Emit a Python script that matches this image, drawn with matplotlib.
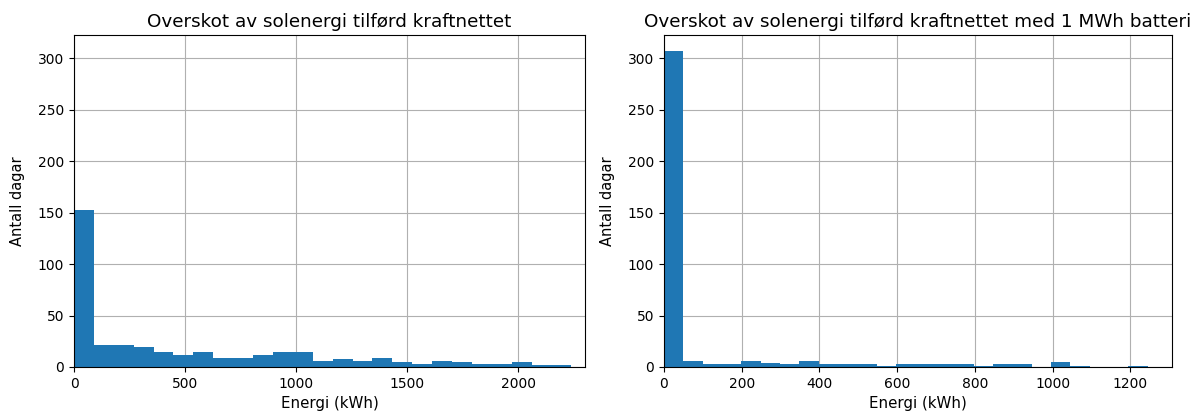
import numpy as np
import matplotlib.pyplot as plt

# daily surplus histograms, 25 bins each
counts_grid = [152, 21, 21, 19, 15, 12, 15, 9, 9, 12, 15, 15, 6,
               8, 6, 9, 5, 3, 6, 5, 3, 3, 5, 2, 2]
max_grid = 2240.0

counts_batt = [307, 6, 3, 3, 6, 4, 3, 6, 3, 3, 3, 1, 3,
               3, 3, 3, 1, 3, 3, 0, 5, 1, 0, 0, 1]
max_batt = 1245.0

titles = ["Overskot av solenergi tilførd kraftnettet",
          "Overskot av solenergi tilførd kraftnettet med 1 MWh batteri"]
xlabel = "Energi (kWh)"
ylabel = "Antall dagar"


def draw_hist(ax, counts, top, title, xmax):
    edges = np.linspace(0, top, len(counts) + 1)
    ax.hist(edges[:-1], bins=edges, weights=counts, color="#1f77b4")
    ax.set_axisbelow(True)
    ax.grid(True, color="#b0b0b0", linewidth=0.8)
    ax.set_xlim(0, xmax)
    ax.set_title(title, fontsize=13.2)
    ax.set_xlabel(xlabel, fontsize=10.8)
    ax.set_ylabel(ylabel, fontsize=10.5, labelpad=9)


def main():
    fig = plt.figure(figsize=(11.92, 4.16), dpi=100)
    ax1 = fig.add_axes([0.0621, 0.1178, 0.4288, 0.798])
    ax2 = fig.add_axes([0.557, 0.1178, 0.4262, 0.798])

    draw_hist(ax1, counts_grid, max_grid, titles[0], 2302)
    draw_hist(ax2, counts_batt, max_batt, titles[1], max_batt * 1.05)

    ymax = max(counts_grid + counts_batt) * 1.05
    ax1.set_ylim(0, ymax)
    ax2.set_ylim(0, ymax)
    ax1.set_xticks([0, 500, 1000, 1500, 2000])
    ax2.set_xticks([0, 200, 400, 600, 800, 1000, 1200])

    fig.savefig("out.png")


if __name__ == '__main__':
    main()
